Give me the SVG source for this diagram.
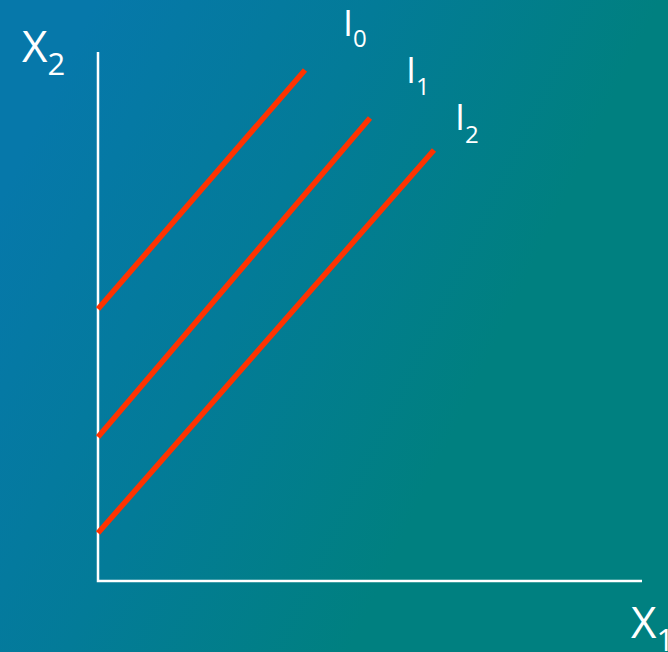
<svg xmlns="http://www.w3.org/2000/svg" width="668" height="652" viewBox="0 0 668 652">
<defs>
<linearGradient id="bg" gradientUnits="userSpaceOnUse" x1="0" y1="200" x2="460" y2="420">
<stop offset="0" stop-color="#0678aa"/>
<stop offset="0.5" stop-color="#037b98"/>
<stop offset="1" stop-color="#008080"/>
</linearGradient>
<style>
.axis{stroke:#ffffff;stroke-width:2.5;fill:none}
.curve{stroke:#ff3300;stroke-width:5.5;fill:none}
.lbl{fill:#ffffff;font-family:"Open Sans","Noto Sans",sans-serif}
</style>
</defs>
<rect width="668" height="652" fill="url(#bg)"/>
<g id="axes">
<path class="axis" d="M98,52 V581 H642"/>
</g>
<g id="connectors">
<line id="I0-line" class="curve" x1="98" y1="309" x2="305" y2="70"/>
<line id="I1-line" class="curve" x1="98" y1="437" x2="370" y2="118"/>
<line id="I2-line" class="curve" x1="98" y1="533" x2="434" y2="150"/>
</g>
<g id="label-X2"><text class="lbl" x="22" y="62" font-size="44">X<tspan font-size="31" dy="13">2</tspan></text></g>
<g id="label-X1"><text class="lbl" x="631" y="638" font-size="44">X<tspan font-size="31" dy="13">1</tspan></text></g>
<g id="label-I0"><text class="lbl" x="343" y="36" font-size="36">I<tspan font-size="24" dy="11">0</tspan></text></g>
<g id="label-I1"><text class="lbl" x="406" y="83" font-size="36">I<tspan font-size="24" dy="12">1</tspan></text></g>
<g id="label-I2"><text class="lbl" x="455" y="130" font-size="36">I<tspan font-size="24" dy="13">2</tspan></text></g>
</svg>
